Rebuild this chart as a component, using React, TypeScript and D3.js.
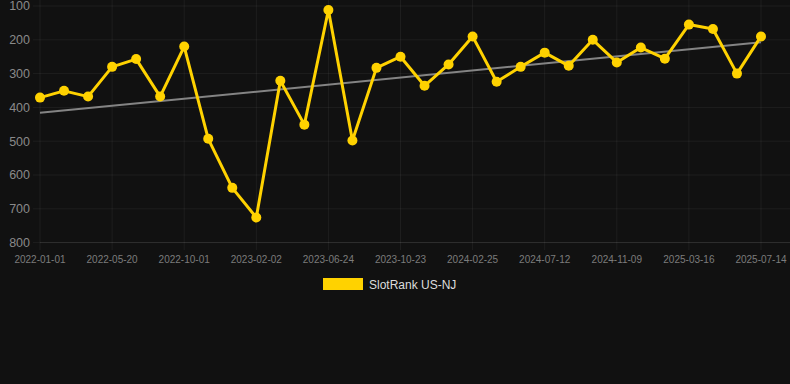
import React from "react";
import * as d3 from "d3";

const tickLabels = [
  "2022-01-01", "2022-05-20", "2022-10-01", "2023-02-02", "2023-06-24",
  "2023-10-23", "2024-02-25", "2024-07-12", "2024-11-09", "2025-03-16", "2025-07-14",
];
const rankValues = [
  371, 351, 368, 280, 257, 368, 220, 493, 638, 726, 321, 451, 112, 498, 283, 250,
  336, 273, 190, 324, 280, 238, 277, 200, 267, 223, 256, 155, 168, 300, 190,
];
const yTicks = [100, 200, 300, 400, 500, 600, 700, 800];
const seriesName = "SlotRank US-NJ";

const W = 790;
const H = 384;

export default function App() {
  const n = rankValues.length;
  const x = d3.scaleLinear().domain([0, n - 1]).range([40, 761]);
  const y = d3.scaleLinear().domain([100, 800]).range([6, 242.6]);

  // linear regression trend
  const idx = d3.range(n);
  const mx = d3.mean(idx) as number;
  const my = d3.mean(rankValues) as number;
  const sxy = d3.sum(idx, (i) => (i - mx) * (rankValues[i] - my));
  const sxx = d3.sum(idx, (i) => (i - mx) * (i - mx));
  const slope = sxy / sxx;
  const icpt = my - slope * mx;
  const trend = [0, n - 1].map((i) => [i, icpt + slope * i]);

  const line = d3
    .line<number>()
    .x((_, i) => x(i))
    .y((d) => y(d));
  const tline = d3
    .line<number[]>()
    .x((d) => x(d[0]))
    .y((d) => y(d[1]));

  const tickIdx = tickLabels.map((_, k) => k * 3);
  const grid = "rgba(255,255,255,0.055)";

  return (
    <div style={{ position: "fixed", left: 0, top: 0, width: W, height: H, background: "#111111" }}>
      <svg width={W} height={H} style={{ display: "block", fontFamily: "'Liberation Sans', Arial, sans-serif" }}>
        <rect x={0} y={0} width={W} height={H} fill="#111111" />
        {yTicks.map((t) => (
          <g key={t}>
            <line x1={33} x2={W} y1={y(t)} y2={y(t)} stroke={grid} strokeWidth={1} />
            <text x={30} y={y(t)} dy="0.35em" textAnchor="end" fontSize={12.5} fill="#8a8a8a">
              {t}
            </text>
          </g>
        ))}
        {tickIdx.map((ti, k) => (
          <g key={ti}>
            <line x1={x(ti)} x2={x(ti)} y1={0} y2={250} stroke={grid} strokeWidth={1} />
            <text x={x(ti)} y={262.5} textAnchor="middle" fontSize={10} fill="#7c7c7c">
              {tickLabels[k]}
            </text>
          </g>
        ))}
        <line x1={40} x2={W} y1={y(800)} y2={y(800)} stroke="rgba(255,255,255,0.09)" strokeWidth={1} />
        <path d={tline(trend) || ""} fill="none" stroke="#848484" strokeWidth={2} />
        <path d={line(rankValues) || ""} fill="none" stroke="#ffd200" strokeWidth={3} strokeLinejoin="round" />
        {rankValues.map((v, i) => (
          <circle key={i} cx={x(i)} cy={y(v)} r={5} fill="#ffd200" />
        ))}
        <rect x={323} y={278} width={40} height={12} fill="#ffd200" />
        <text x={369} y={284.5} dy="0.35em" fontSize={12} fill="#dddddd">
          {seriesName}
        </text>
      </svg>
    </div>
  );
}
